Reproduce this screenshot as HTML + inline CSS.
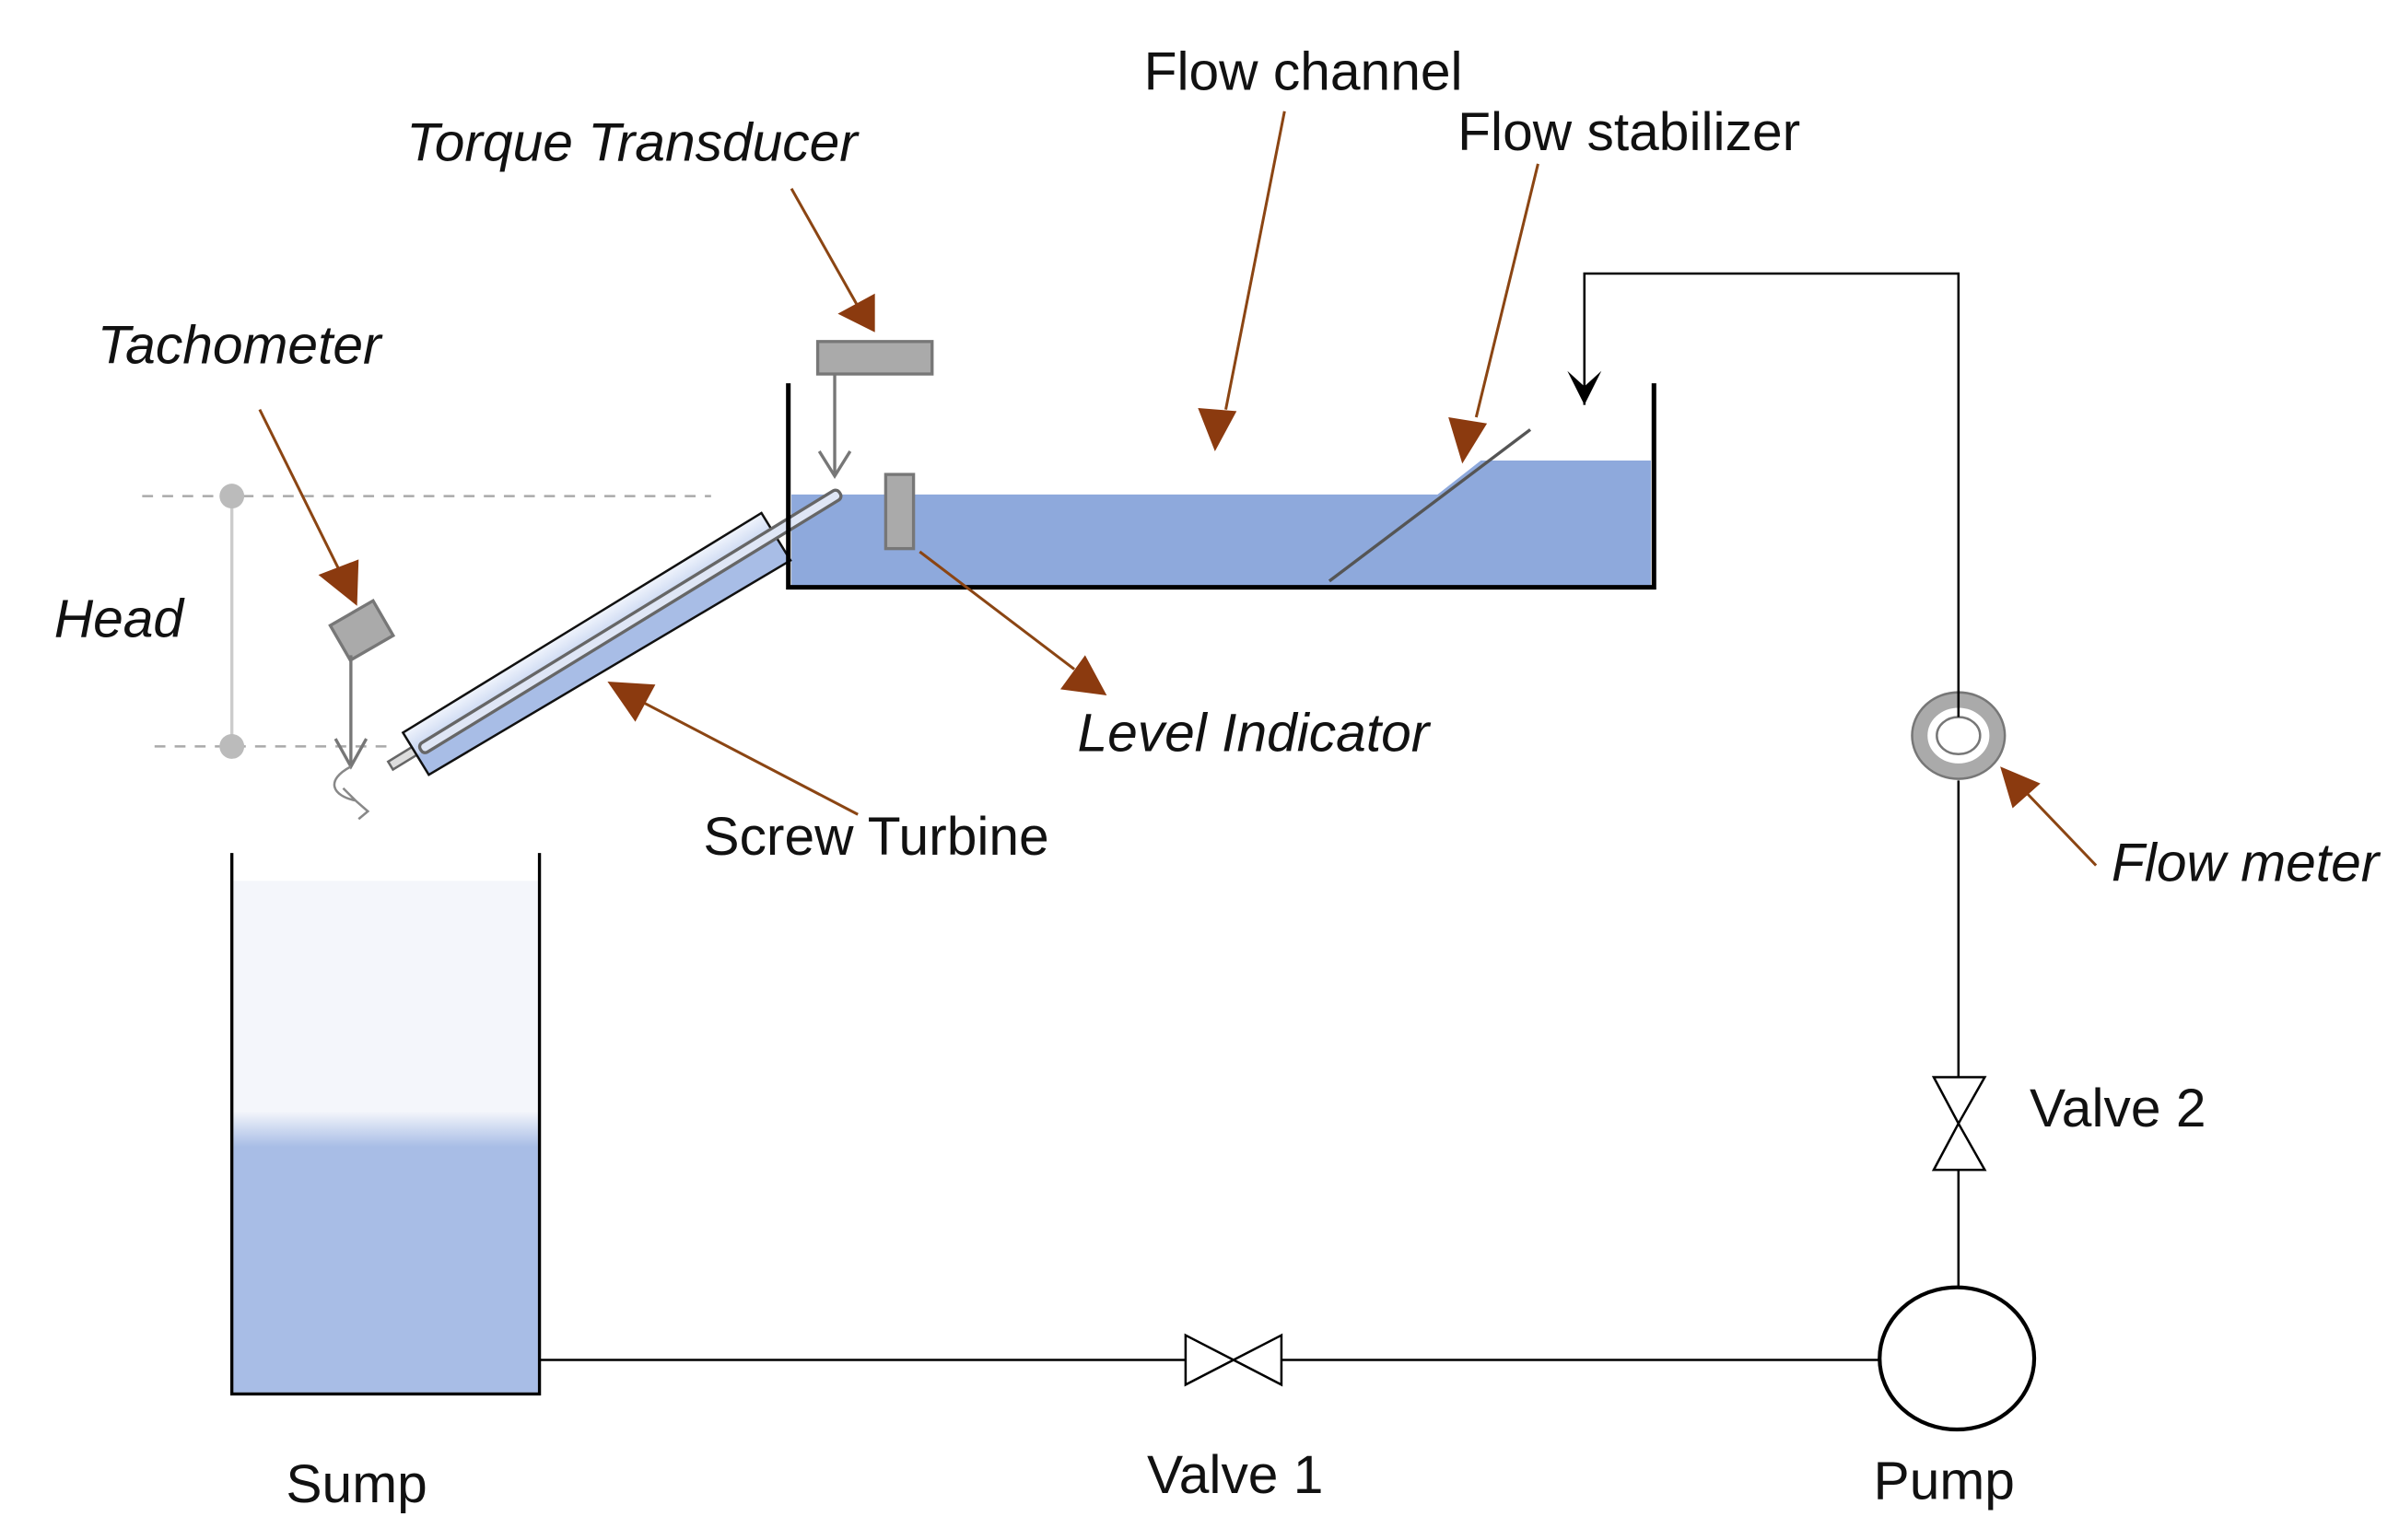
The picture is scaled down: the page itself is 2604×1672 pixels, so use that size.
<!DOCTYPE html>
<html><head><meta charset="utf-8"><style>
html,body{margin:0;padding:0;background:#fff}
svg{display:block}
text{font-family:"Liberation Sans",Arial,sans-serif;font-size:35px;fill:#111}
.i{font-style:italic}
</style></head><body>
<svg width="2604" height="1672" viewBox="0 0 1552 996.5" preserveAspectRatio="none" xmlns="http://www.w3.org/2000/svg">
<defs>
<linearGradient id="sump" x1="0" y1="0" x2="0" y2="1">
<stop offset="0" stop-color="#f4f6fb"/><stop offset="0.45" stop-color="#f4f6fb"/><stop offset="0.52" stop-color="#a8bde6"/><stop offset="1" stop-color="#a8bde6"/>
</linearGradient>
<linearGradient id="tube" x1="0" y1="0" x2="0" y2="1">
<stop offset="0" stop-color="#f0f4fc"/><stop offset="0.45" stop-color="#c4d3f0"/><stop offset="0.5" stop-color="#a8bde6"/><stop offset="1" stop-color="#a8bde6"/>
</linearGradient>
</defs>
<line x1="92" y1="321" x2="460" y2="321" stroke="#aaa" stroke-width="1.5" stroke-dasharray="7,6"/>
<line x1="100" y1="483" x2="255" y2="483" stroke="#aaa" stroke-width="1.5" stroke-dasharray="7,6"/>
<line x1="150" y1="321" x2="150" y2="483" stroke="#ccc" stroke-width="2"/>
<circle cx="150" cy="321" r="8" fill="#bbb"/><circle cx="150" cy="483" r="8" fill="#bbb"/>
<polygon points="512,320 930,320 958,298 1068,298 1068,379 512,379" fill="#8ea9dc"/>
<line x1="860" y1="376" x2="990" y2="278" stroke="#555" stroke-width="2"/>
<g transform="translate(268,486) rotate(-31.5)">
<rect x="-18" y="-3" width="22" height="6" fill="#ddd" stroke="#666" stroke-width="1.5"/>
<polygon points="0,-14 272,-14 272,22 0,18" fill="url(#tube)" stroke="#111" stroke-width="1.5"/>
<rect x="4" y="-2" width="318" height="7" rx="3" fill="#dfe6f5" stroke="#666" stroke-width="2"/>
</g>
<polyline points="510,248 510,380 1070,380 1070,248" fill="none" stroke="#000" stroke-width="3"/>
<rect x="529" y="221" width="74" height="21" fill="#aaa" stroke="#777" stroke-width="2"/>
<line x1="540" y1="242" x2="540" y2="308" stroke="#777" stroke-width="2"/>
<polyline points="530,292 540,308 550,292" fill="none" stroke="#777" stroke-width="2"/>
<rect x="573" y="307" width="18" height="48" fill="#aaa" stroke="#777" stroke-width="2"/>
<rect x="-16" y="-13" width="32" height="26" fill="#aaa" stroke="#777" stroke-width="2" transform="translate(234,408) rotate(-30)"/>
<line x1="227" y1="424" x2="227" y2="496" stroke="#777" stroke-width="2"/>
<polyline points="217,478 227,496 237,478" fill="none" stroke="#777" stroke-width="2"/>
<path d="M227,496 C210,505 215,515 230,518 L222,510 M230,518 L238,525 L232,530" fill="none" stroke="#888" stroke-width="1.5"/>
<rect x="151" y="570" width="197" height="331" fill="url(#sump)"/>
<polyline points="150,552 150,902 349,902 349,552" fill="none" stroke="#000" stroke-width="2"/>
<line x1="349" y1="880" x2="767" y2="880" stroke="#000" stroke-width="1.5"/>
<polygon points="767,864 798,880 767,896" fill="#fff" stroke="#000" stroke-width="1.5"/>
<polygon points="829,864 798,880 829,896" fill="#fff" stroke="#000" stroke-width="1.5"/>
<line x1="829" y1="880" x2="1216" y2="880" stroke="#000" stroke-width="1.5"/>
<ellipse cx="1266" cy="879" rx="50" ry="46" fill="#fff" stroke="#000" stroke-width="2.5"/>
<line x1="1267" y1="833" x2="1267" y2="757" stroke="#000" stroke-width="1.5"/>
<polygon points="1251,757 1267,727 1284,757" fill="#fff" stroke="#000" stroke-width="1.5"/>
<polygon points="1251,697 1267,727 1284,697" fill="#fff" stroke="#000" stroke-width="1.5"/>
<line x1="1267" y1="697" x2="1267" y2="505" stroke="#000" stroke-width="1.5"/>
<ellipse cx="1267" cy="476" rx="25" ry="23" fill="none" stroke="#aaa" stroke-width="10"/>
<ellipse cx="1267" cy="476" rx="30" ry="28" fill="none" stroke="#777" stroke-width="1.5"/>
<ellipse cx="1267" cy="476" rx="14" ry="12" fill="#fff" stroke="#777" stroke-width="1.5"/>
<polyline points="1267,464 1267,177 1025,177 1025,262" fill="none" stroke="#000" stroke-width="1.5"/>
<polygon points="1014,240 1025,262 1036,240 1025,250" fill="#000"/>
<g stroke="#8b4513" stroke-width="1.8" fill="#8b3a0f">
<line x1="512" y1="122" x2="556" y2="200"/><polygon points="542,203 566,215 566,190" stroke="none"/>
<line x1="831" y1="72" x2="793" y2="265"/><polygon points="775,264 786,292 800,266" stroke="none"/>
<line x1="995" y1="106" x2="955" y2="270"/><polygon points="937,270 946,300 962,274" stroke="none"/>
<line x1="168" y1="265" x2="220" y2="370"/><polygon points="206,372 231,392 232,362" stroke="none"/>
<line x1="595" y1="357" x2="695" y2="433"/><polygon points="686,446 716,450 702,424" stroke="none"/>
<line x1="555" y1="527" x2="417" y2="455"/><polygon points="393,441 424,443 411,467" stroke="none"/>
<line x1="1356" y1="560" x2="1311" y2="513"/><polygon points="1294,496 1302,523 1320,507" stroke="none"/>
</g>
<text x="740" y="58">Flow channel</text>
<text x="943" y="97">Flow stabilizer</text>
<text x="263" y="104" class="i">Torque Transducer</text>
<text x="63" y="235" class="i">Tachometer</text>
<text x="35" y="412" class="i">Head</text>
<text x="697" y="486" class="i">Level Indicator</text>
<text x="455" y="553">Screw Turbine</text>
<text x="1366" y="570" class="i">Flow meter</text>
<text x="1313" y="729">Valve 2</text>
<text x="185" y="972">Sump</text>
<text x="742" y="966">Valve 1</text>
<text x="1212" y="970">Pump</text>
</svg>
</body></html>
